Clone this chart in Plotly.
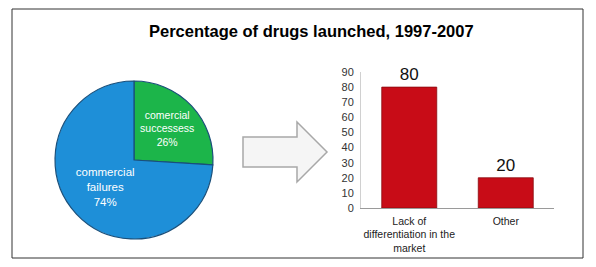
import plotly.graph_objects as go

W, H = 596, 267

pie_labels = ["comercial<br>successess", "commercial<br>failures"]
pie_values = [26, 74]
pie_colors = ["#1cb54a", "#1e8fd8"]

bar_categories = ["Lack of<br>differentiation in the<br>market", "Other"]
bar_values = [80, 20]
bar_color = "#c80c17"

title_text = "Percentage of drugs launched, 1997-2007"

def px(x):
    return x / W

def py(y):
    return 1 - y / H

fig = go.Figure()

fig.add_trace(go.Pie(
    labels=pie_labels,
    values=pie_values,
    sort=False,
    direction="clockwise",
    rotation=0,
    marker=dict(colors=pie_colors, line=dict(color="#1a4f7a", width=1.2)),
    texttemplate="%{label}<br>%{percent:.0%}",
    textposition="inside",
    insidetextorientation="horizontal",
    textfont=dict(family="Liberation Sans, Arial", size=11.5, color="white"),
    domain=dict(x=[px(55), px(213)], y=[py(239), py(81)]),
    showlegend=False,
    hoverinfo="label+percent",
))

fig.add_trace(go.Bar(
    x=bar_categories,
    y=bar_values,
    marker=dict(color=bar_color, line=dict(color="#8a0a10", width=0.8)),
    width=0.57,
    text=[str(v) for v in bar_values],
    textposition="outside",
    textfont=dict(family="Liberation Sans, Arial", size=17, color="#111"),
    cliponaxis=False,
    showlegend=False,
    xaxis="x", yaxis="y",
))

fig.update_layout(
    width=W, height=H,
    margin=dict(l=0, r=0, t=0, b=0),
    paper_bgcolor="white",
    plot_bgcolor="white",
    font=dict(family="Liberation Sans, Arial", color="#333"),
    xaxis=dict(
        domain=[px(361), px(554)],
        anchor="y",
        showline=True, linecolor="#9a9a9a", linewidth=1,
        ticks="", showgrid=False,
        ticklabelstandoff=3,
        automargin=False,
        tickfont=dict(size=10.5, color="#222"),
    ),
    yaxis=dict(
        domain=[py(208), py(72)],
        anchor="x",
        range=[0, 90],
        dtick=10,
        showline=True, linecolor="#d0d0d0", linewidth=1,
        showgrid=False, zeroline=False, ticks="",
        ticklabelstandoff=4,
        automargin=False,
        tickfont=dict(size=11, color="#333"),
    ),
    shapes=[
        dict(type="rect", xref="paper", yref="paper",
             x0=px(12), x1=px(583), y0=py(258), y1=py(9),
             line=dict(color="#333", width=1), fillcolor="rgba(0,0,0,0)", layer="below"),
        dict(type="path", xref="paper", yref="paper",
             path=("M {a},{b} L {c},{b} L {c},{d} L {e},{f} L {c},{g} L {c},{h} L {a},{h} Z").format(
                 a=px(243), b=py(137), c=px(297), d=py(122), e=px(327), f=py(152), g=py(182), h=py(167)),
             fillcolor="#f5f5f5", line=dict(color="#a8a8a8", width=1.5)),
    ],
    annotations=[
        dict(text="<b>" + title_text + "</b>", xref="paper", yref="paper",
             x=px(311), y=py(31), showarrow=False, xanchor="center", yanchor="middle",
             font=dict(family="Liberation Sans, Arial", size=16.5, color="#000")),
    ],
)

fig.write_html("out.html")
